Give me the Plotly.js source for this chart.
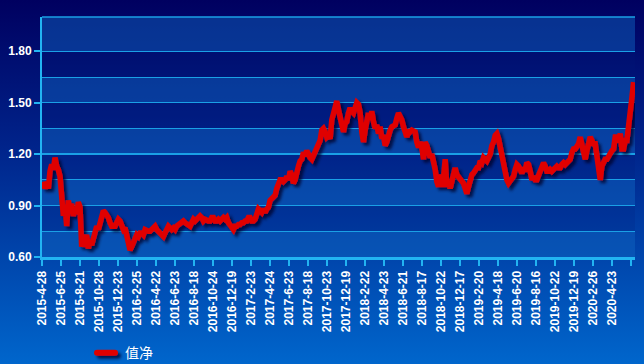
<!DOCTYPE html>
<html>
<head>
<meta charset="utf-8">
<script src="https://cdn.plot.ly/plotly-3.0.1.min.js"></script>
<style>
  html, body { margin: 0; padding: 0; }
  body { width: 644px; height: 364px; overflow: hidden;
         background: linear-gradient(to bottom, #000060 0%, #00238a 40%, #0066cc 100%); }
  #chart { width: 644px; height: 364px; }
</style>
</head>
<body>
<div id="chart"></div>
<script>
// Tick labels (trading-day index of each label = 40 * position)
const tickLabels = [
  "2015-4-28","2015-6-25","2015-8-21","2015-10-28","2015-12-23",
  "2016-2-25","2016-4-22","2016-6-23","2016-8-18","2016-10-24","2016-12-19",
  "2017-2-23","2017-4-24","2017-6-23","2017-8-18","2017-10-23","2017-12-19",
  "2018-2-22","2018-4-23","2018-6-21","2018-8-17","2018-10-22","2018-12-17",
  "2019-2-20","2019-4-18","2019-6-20","2019-8-16","2019-10-22","2019-12-19",
  "2020-2-26","2020-4-23",""
];
const tickStepDays = 40;
const totalDays = 1248;

const sampleStart = 2.8;
const sampleStep = 3.509;
const navValues = [
  1.04,1.00,1.03,1.00,1.10,1.14, 1.11,1.18,1.13,1.11,1.07,0.96,
  0.84,0.90,0.78,0.93,0.88,0.91, 0.84,0.88,0.85,0.92,0.89,0.66,
  0.70,0.66,0.73,0.65,0.69,0.67, 0.72,0.76,0.78,0.76,0.80,0.85,
  0.87,0.86,0.85,0.83,0.80,0.78, 0.78,0.78,0.80,0.82,0.81,0.79,
  0.76,0.77,0.73,0.70,0.64,0.66, 0.69,0.72,0.73,0.72,0.74,0.74,
  0.73,0.76,0.75,0.75,0.75,0.76, 0.77,0.78,0.76,0.75,0.75,0.73,
  0.72,0.74,0.76,0.78,0.77,0.76, 0.77,0.76,0.78,0.79,0.80,0.80,
  0.81,0.80,0.79,0.78,0.78,0.80, 0.82,0.81,0.82,0.82,0.84,0.83,
  0.81,0.82,0.81,0.81,0.81,0.83, 0.83,0.81,0.81,0.82,0.81,0.82,
  0.83,0.82,0.83,0.80,0.79,0.77, 0.76,0.78,0.78,0.79,0.79,0.80,
  0.80,0.81,0.81,0.83,0.83,0.81, 0.81,0.82,0.86,0.88,0.87,0.86,
  0.88,0.86,0.88,0.89,0.93,0.94, 0.95,0.96,1.00,1.03,1.05,1.05,
  1.04,1.05,1.07,1.05,1.10,1.08, 1.03,1.05,1.11,1.13,1.16,1.17,
  1.21,1.19,1.22,1.19,1.18,1.17, 1.19,1.21,1.23,1.25,1.28,1.34,
  1.35,1.33,1.30,1.31,1.29,1.40, 1.44,1.46,1.51,1.46,1.42,1.36,
  1.33,1.38,1.39,1.44,1.47,1.45, 1.44,1.47,1.50,1.49,1.44,1.33,
  1.27,1.34,1.40,1.44,1.40,1.45, 1.39,1.35,1.37,1.32,1.36,1.29,
  1.31,1.25,1.27,1.32,1.34,1.36, 1.37,1.37,1.41,1.44,1.42,1.40,
  1.36,1.31,1.30,1.34,1.33,1.34, 1.33,1.33,1.27,1.24,1.27,1.24,
  1.17,1.27,1.25,1.20,1.18,1.20, 1.16,1.11,1.04,1.01,1.08,1.01,
  1.06,1.17,1.01,1.04,1.00,1.05, 1.10,1.12,1.08,1.07,1.05,1.05,
  1.03,1.00,0.97,1.01,1.05,1.08, 1.09,1.11,1.12,1.12,1.16,1.15,
  1.18,1.17,1.16,1.18,1.20,1.25, 1.27,1.31,1.32,1.29,1.24,1.18,
  1.17,1.12,1.05,1.03,1.04,1.05, 1.07,1.11,1.14,1.13,1.10,1.09,
  1.11,1.11,1.15,1.14,1.10,1.05, 1.07,1.05,1.05,1.08,1.09,1.12,
  1.15,1.13,1.10,1.10,1.11,1.10, 1.11,1.11,1.13,1.12,1.12,1.14,
  1.15,1.14,1.15,1.17,1.17,1.21, 1.23,1.23,1.24,1.26,1.30,1.25,
  1.22,1.17,1.22,1.28,1.30,1.28, 1.26,1.26,1.17,1.09,1.05,1.13,
  1.16,1.17,1.17,1.19,1.21,1.22, 1.23,1.30,1.30,1.27,1.32,1.23,
  1.23,1.28,1.28,1.35,1.41,1.53, 1.62
];
const seriesName = "值净";

const xIdx = navValues.map((_, k) => sampleStart + k * sampleStep);
const tickVals = tickLabels.map((_, k) => k * tickStepDays);

const yMin = 0.6, yMax = 2.0, yMajor = 0.3, yMinor = 0.15;
const axisCyan = '#22b4f2';
const gridCyan = '#1aa0e6';

// minor grid lines halfway between major ticks, inside the range only
const minorVals = [];
for (let v = yMin + yMinor; v < yMax - yMinor / 2; v += yMajor) minorVals.push(+v.toFixed(2));

// alternating light bands: from each major tick up to the next minor line
const shapes = [];
for (let v = yMin; v < yMax - 1e-9; v += yMajor) {
  shapes.push({type:'rect', xref:'paper', yref:'y', x0:0, x1:1,
    y0:v, y1:Math.min(v + yMinor, yMax) + (v + yMajor > yMax - 1e-9 ? yMax - v - yMinor : 0),
    fillcolor:'rgba(20,125,215,0.36)', line:{width:0}, layer:'below'});
}
shapes.push({type:'line', xref:'paper', yref:'paper', x0:0, x1:1, y0:1, y1:1,
  line:{color:gridCyan, width:1.5}});

const trace = {
  x: xIdx, y: navValues, type:'scatter', mode:'lines', name: seriesName,
  line:{color:'#e00000', width:5.5, shape:'linear'}
};

const tickFont = {family:'"Liberation Sans", Arial, sans-serif', size:12, color:'#ffffff', weight:700};

const layout = {
  width:644, height:364,
  margin:{l:42, r:9, t:17, b:107, pad:0},
  paper_bgcolor:'rgba(0,0,0,0)',
  plot_bgcolor:'rgba(0,30,120,0.18)',
  showlegend:true,
  legend:{orientation:'h', xref:'container', yref:'container', x:0.132, y:0.03,
    xanchor:'left', yanchor:'middle', bgcolor:'rgba(0,0,0,0)',
    font:{family:'"Noto Sans CJK SC", sans-serif', size:14, color:'#ffffff'}},
  xaxis:{
    type:'linear', range:[0, totalDays], showgrid:false, zeroline:false,
    tickmode:'array', tickvals:tickVals, ticktext:tickLabels, tickangle:-90,
    ticks:'outside', ticklen:6, tickwidth:2, tickcolor:axisCyan,
    showline:true, linecolor:axisCyan, linewidth:3,
    tickfont:tickFont, fixedrange:true
  },
  yaxis:{
    range:[yMin, yMax], tick0:yMin, dtick:yMajor, tickformat:'.2f',
    showgrid:true, gridcolor:gridCyan, gridwidth:1.5, zeroline:false,
    minor:{tickmode:'array', tickvals:minorVals, showgrid:true, gridcolor:gridCyan, gridwidth:1},
    ticks:'outside', ticklen:6, tickwidth:2, tickcolor:axisCyan,
    showline:true, linecolor:axisCyan, linewidth:2,
    tickfont:tickFont, fixedrange:true
  },
  shapes: shapes
};

Plotly.newPlot('chart', [trace], layout, {staticPlot:true, displayModeBar:false}).then(gd => {
  const svg = gd.querySelector('svg.main-svg');
  const ns = 'http://www.w3.org/2000/svg';
  let defs = svg.querySelector('defs');
  if (!defs) { defs = document.createElementNS(ns, 'defs'); svg.insertBefore(defs, svg.firstChild); }
  function makeShadow(id, userSpace) {
    const f = document.createElementNS(ns, 'filter');
    f.setAttribute('id', id);
    if (userSpace) {
      f.setAttribute('filterUnits', 'userSpaceOnUse');
      f.setAttribute('x', '-50'); f.setAttribute('y', '-50');
      f.setAttribute('width', '200'); f.setAttribute('height', '100');
    } else {
      f.setAttribute('x', '-10%'); f.setAttribute('y', '-10%');
      f.setAttribute('width', '130%'); f.setAttribute('height', '130%');
    }
    const ds = document.createElementNS(ns, 'feDropShadow');
    ds.setAttribute('dx', '3'); ds.setAttribute('dy', '3');
    ds.setAttribute('stdDeviation', '1.5');
    ds.setAttribute('flood-color', '#000028'); ds.setAttribute('flood-opacity', '0.75');
    f.appendChild(ds); defs.appendChild(f);
  }
  makeShadow('lineShadow', false);
  makeShadow('legShadow', true);
  gd.querySelectorAll('.scatterlayer path.js-line').forEach(p => p.setAttribute('filter', 'url(#lineShadow)'));
  gd.querySelectorAll('.legend path.js-line').forEach(p => {
    p.setAttribute('d', 'M12,0h18');
    p.style.strokeLinecap = 'round';
    p.style.strokeWidth = '6px';
    p.setAttribute('filter', 'url(#legShadow)');
  });
});
</script>
</body>
</html>
